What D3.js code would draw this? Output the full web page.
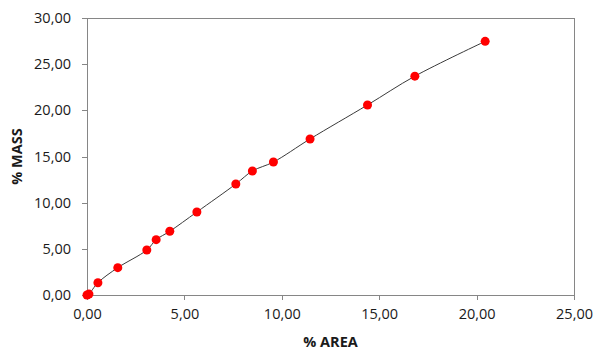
<!DOCTYPE html>
<html>
<head>
<meta charset="utf-8">
<script src="https://cdn.jsdelivr.net/npm/d3@7"></script>
<style>
  body { margin: 0; background: #fff; }
  .axis text { font-family: "Open Sans", sans-serif; font-size: 14.5px; fill: #1a1a1a; }
  .axis path, .axis line { stroke: #868686; }
  .title { font-family: "Open Sans", sans-serif; font-size: 14.5px; font-weight: bold; fill: #1a1a1a; }
</style>
</head>
<body>
<div id="chart"></div>
<script>
// % AREA vs % MASS
const areaPct = [0, 0.1, 0.56, 1.58, 3.07, 3.55, 4.25, 5.64, 7.64, 8.49, 9.57, 11.45, 14.40, 16.83, 20.44];
const massPct = [0, 0.1, 1.33, 2.96, 4.87, 5.99, 6.90, 8.99, 12.02, 13.43, 14.40, 16.90, 20.58, 23.70, 27.47];
const xTicks = [0, 5, 10, 15, 20, 25];
const yTicks = [0, 5, 10, 15, 20, 25, 30];

const width = 598, height = 351;
const margin = { top: 18, right: 24, bottom: 56, left: 87 };
const iw = width - margin.left - margin.right;
const ih = height - margin.top - margin.bottom;

const points = areaPct.map((a, i) => ({ x: a, y: massPct[i] }));

// comma as decimal separator
const fmt = d3.formatLocale({ decimal: ',', thousands: '.', grouping: [3], currency: ['', ''] }).format('.2f');

const svg = d3.select('#chart').append('svg')
  .attr('width', width)
  .attr('height', height)
  .style('display', 'block');

const g = svg.append('g').attr('transform', `translate(${margin.left},${margin.top})`);

const x = d3.scaleLinear().domain([0, 25]).range([0, iw]);
const y = d3.scaleLinear().domain([0, 30]).range([ih, 0]);

// plot frame
g.append('rect')
  .attr('width', iw).attr('height', ih)
  .attr('fill', 'none').attr('stroke', '#868686').attr('stroke-width', 1)
  .attr('shape-rendering', 'crispEdges');

g.append('g').attr('class', 'axis')
  .attr('transform', `translate(0,${ih})`)
  .call(d3.axisBottom(x).tickValues(xTicks).tickFormat(fmt).tickSize(5).tickSizeOuter(0).tickPadding(9))
  .attr('shape-rendering', 'crispEdges');

g.append('g').attr('class', 'axis')
  .call(d3.axisLeft(y).tickValues(yTicks).tickFormat(fmt).tickSize(5).tickSizeOuter(0).tickPadding(11))
  .attr('shape-rendering', 'crispEdges');

// smooth line through the points
const line = d3.line().x(d => x(d.x)).y(d => y(d.y)).curve(d3.curveCatmullRom);
g.append('path')
  .datum(points)
  .attr('d', line)
  .attr('fill', 'none')
  .attr('stroke', '#3a3a3a')
  .attr('stroke-width', 1);

g.selectAll('.dot')
  .data(points)
  .enter()
  .append('circle')
  .attr('class', 'dot')
  .attr('cx', d => x(d.x))
  .attr('cy', d => y(d.y))
  .attr('r', 4.5)
  .attr('fill', '#ff0000');

svg.append('text')
  .attr('class', 'title')
  .attr('x', margin.left + iw / 2)
  .attr('y', 347)
  .attr('text-anchor', 'middle')
  .text('% AREA');

svg.append('text')
  .attr('class', 'title')
  .attr('transform', `translate(22,${margin.top + ih / 2}) rotate(-90)`)
  .attr('text-anchor', 'middle')
  .text('% MASS');
</script>
</body>
</html>
